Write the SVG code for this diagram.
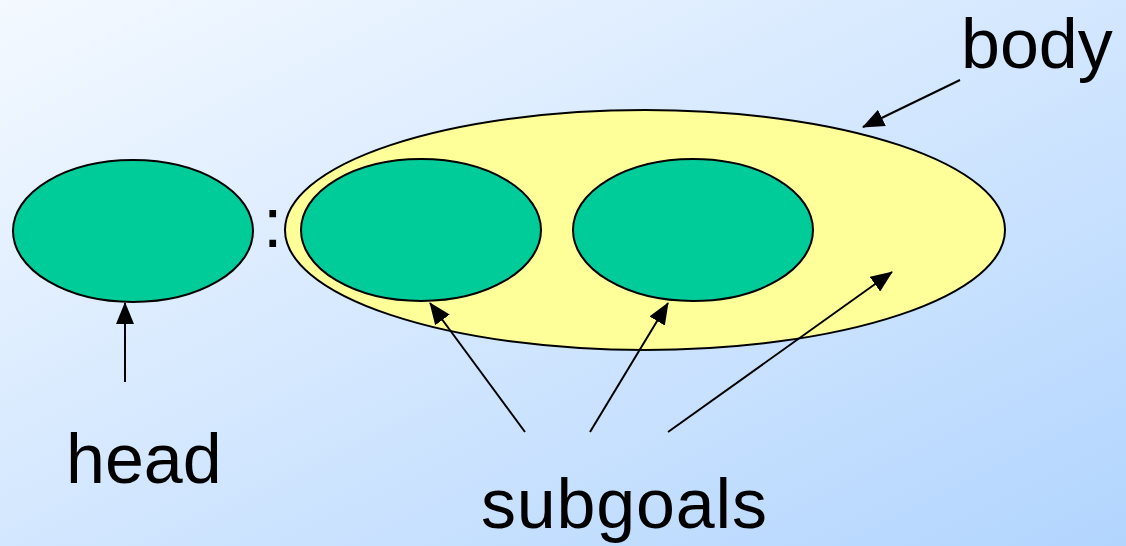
<svg xmlns="http://www.w3.org/2000/svg" width="1126" height="546" viewBox="0 0 1126 546">
<defs>
<linearGradient id="bg" x1="0" y1="0" x2="1" y2="1">
<stop offset="0" stop-color="#f4f9ff"/>
<stop offset="1" stop-color="#b2d5fe"/>
</linearGradient>
<marker id="ah" viewBox="0 0 22 18" refX="21" refY="9" markerWidth="22" markerHeight="18" markerUnits="userSpaceOnUse" orient="auto">
<path d="M0,0 L22,9 L0,18 z" fill="#000"/>
</marker>
<style>
.g{fill:#00cc99;stroke:#000;stroke-width:2}
.y{fill:#ffff99;stroke:#000;stroke-width:2}
.t{font-family:"Liberation Sans",Arial,sans-serif;font-size:70px;fill:#000}
.c line{stroke:#000;stroke-width:2;marker-end:url(#ah)}
</style>
</defs>
<rect width="1126" height="546" fill="url(#bg)"/>
<g id="body"><ellipse class="y" cx="645" cy="230" rx="360" ry="120"/></g>
<g id="head"><ellipse class="g" cx="133" cy="231" rx="120" ry="71"/></g>
<g id="subgoal1"><ellipse class="g" cx="421" cy="230" rx="120" ry="71"/></g>
<g id="subgoal2"><ellipse class="g" cx="693" cy="230" rx="120" ry="71"/></g>
<g id="colon"><text class="t" x="263" y="247">:</text></g>
<g id="label-body"><text class="t" x="961" y="68">body</text></g>
<g id="label-head"><text class="t" x="66" y="483">head</text></g>
<g id="label-subgoals"><text class="t" x="481" y="528" textLength="286" lengthAdjust="spacing">subgoals</text></g>
<g id="connectors" class="c">
<line x1="125" y1="382" x2="125" y2="303"/>
<line x1="960" y1="80" x2="863" y2="127"/>
<line x1="525" y1="432" x2="430" y2="303"/>
<line x1="590" y1="432" x2="668" y2="303"/>
<line x1="668" y1="432" x2="892" y2="272"/>
</g>
</svg>
